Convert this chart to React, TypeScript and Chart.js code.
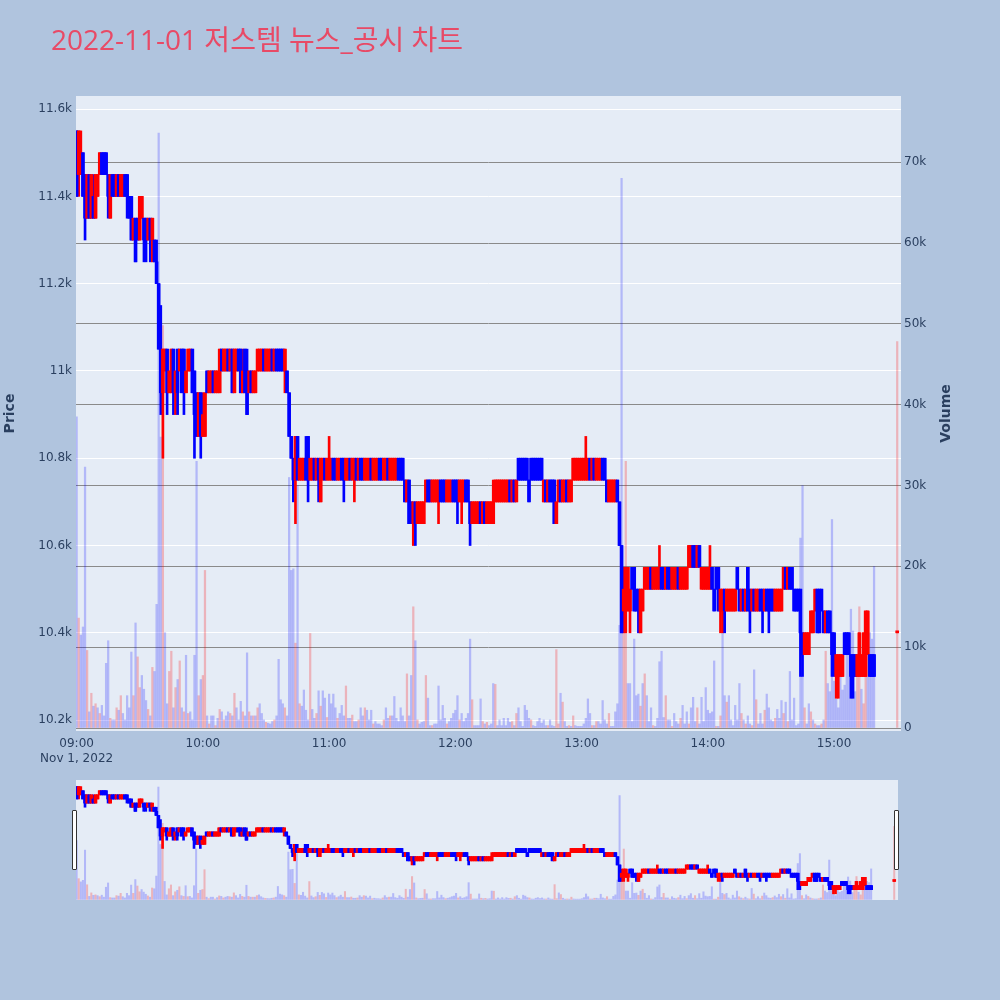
import { useEffect, useRef } from "react";
import { Chart, registerables } from "chart.js";

Chart.register(...registerables);

const TITLE = "2022-11-01 저스템 뉴스_공시 차트";
const DATE_LABEL = "Nov 1, 2022";
const TIME_TICK_MINUTES = [0, 60, 120, 180, 240, 300, 360];
const TIME_TICK_LABELS = ["09:00", "10:00", "11:00", "12:00", "13:00", "14:00", "15:00"];
const PRICE_TICKS = [10200, 10400, 10600, 10800, 11000, 11200, 11400, 11600];
const VOLUME_TICKS = [0, 10000, 20000, 30000, 40000, 50000, 60000, 70000];

// One bar per minute of continuous trading (09:00–15:19), then the 15:30 closing auction.
const CONTINUOUS_BARS = 380;
const CLOSING_AUCTION_MINUTE = 390;

const OPEN = [
  11550, 11450, 11450, 11500, 11450, 11350, 11450, 11350, 11400, 11350,
  11400, 11450, 11500, 11500, 11500, 11450, 11350, 11450, 11450, 11400,
  11450, 11400, 11400, 11450, 11450, 11400, 11400, 11300, 11350, 11350,
  11300, 11350, 11350, 11350, 11300, 11350, 11300, 11300, 11250, 11200,
  11050, 10950, 11000, 11050, 10950, 10950, 11050, 10950, 11050, 11000,
  11050, 11050, 10950, 11000, 11000, 11050, 11000, 10950, 10850, 10950,
  10850, 10850, 11000, 10950, 10950, 11000, 10950, 10950, 10950, 11050,
  11000, 11000, 11050, 11000, 11050, 10950, 11000, 11050, 11050, 10950,
  11050, 11000, 10950, 11000, 10950, 10950, 11000, 11000, 11000, 11050,
  11000, 11000, 11000, 11050, 11000, 11050, 11050, 11050, 11050, 11000,
  11000, 10950, 10850, 10800, 10750, 10850, 10750, 10750, 10750, 10800,
  10850, 10750, 10750, 10800, 10750, 10800, 10700, 10750, 10800, 10750,
  10750, 10750, 10800, 10800, 10750, 10750, 10800, 10800, 10750, 10750,
  10800, 10750, 10750, 10800, 10750, 10800, 10800, 10750, 10750, 10750,
  10800, 10750, 10750, 10750, 10800, 10800, 10750, 10750, 10800, 10750,
  10750, 10750, 10750, 10800, 10800, 10800, 10750, 10700, 10750, 10700,
  10650, 10700, 10650, 10650, 10650, 10650, 10700, 10750, 10750, 10700,
  10700, 10700, 10700, 10750, 10750, 10750, 10700, 10700, 10700, 10750,
  10750, 10750, 10700, 10700, 10700, 10750, 10750, 10700, 10650, 10650,
  10650, 10650, 10700, 10650, 10700, 10650, 10650, 10650, 10650, 10700,
  10700, 10700, 10700, 10700, 10700, 10700, 10750, 10700, 10750, 10700,
  10800, 10800, 10800, 10800, 10800, 10750, 10800, 10800, 10800, 10800,
  10800, 10800, 10700, 10750, 10700, 10750, 10750, 10750, 10650, 10700,
  10750, 10700, 10700, 10750, 10700, 10700, 10750, 10750, 10750, 10750,
  10750, 10750, 10750, 10750, 10800, 10750, 10800, 10750, 10750, 10750,
  10800, 10800, 10750, 10700, 10700, 10700, 10700, 10750, 10700, 10600,
  10450, 10450, 10450, 10450, 10550, 10550, 10500, 10500, 10400, 10450,
  10500, 10500, 10500, 10550, 10500, 10500, 10500, 10500, 10550, 10550,
  10500, 10550, 10550, 10500, 10500, 10500, 10550, 10500, 10500, 10500,
  10500, 10550, 10550, 10600, 10600, 10550, 10600, 10500, 10500, 10500,
  10500, 10500, 10550, 10500, 10550, 10550, 10450, 10450, 10500, 10450,
  10450, 10450, 10450, 10450, 10550, 10500, 10450, 10500, 10450, 10550,
  10500, 10450, 10500, 10450, 10450, 10500, 10500, 10450, 10500, 10500,
  10500, 10500, 10450, 10450, 10450, 10450, 10500, 10550, 10500, 10550,
  10550, 10500, 10500, 10500, 10500, 10400, 10350, 10350, 10350, 10400,
  10400, 10450, 10500, 10500, 10500, 10450, 10400, 10450, 10450, 10400,
  10400, 10300, 10300, 10300, 10300, 10400, 10400, 10400, 10350, 10350,
  10350, 10300, 10300, 10300, 10300, 10300, 10350, 10350, 10350, 10350,
  10400,
];

const HIGH = [
  11550, 11550, 11550, 11500, 11450, 11450, 11450, 11450, 11450, 11450,
  11450, 11500, 11500, 11500, 11500, 11450, 11450, 11450, 11450, 11450,
  11450, 11450, 11450, 11450, 11450, 11400, 11400, 11350, 11350, 11350,
  11400, 11400, 11350, 11350, 11350, 11350, 11350, 11300, 11300, 11200,
  11150, 11050, 11050, 11050, 11000, 11050, 11050, 11000, 11050, 11050,
  11050, 11050, 11000, 11050, 11050, 11050, 11000, 10950, 10950, 10950,
  10950, 10950, 11000, 11000, 11000, 11000, 11000, 11000, 11050, 11050,
  11050, 11050, 11050, 11050, 11050, 11050, 11050, 11050, 11050, 11050,
  11050, 11050, 11000, 11000, 11000, 11000, 11050, 11050, 11050, 11050,
  11050, 11050, 11050, 11050, 11050, 11050, 11050, 11050, 11050, 11050,
  11000, 10950, 10850, 10800, 10850, 10850, 10800, 10800, 10800, 10850,
  10850, 10800, 10800, 10800, 10800, 10800, 10800, 10800, 10800, 10800,
  10850, 10800, 10800, 10800, 10800, 10800, 10800, 10800, 10800, 10800,
  10800, 10800, 10800, 10800, 10800, 10800, 10800, 10800, 10800, 10800,
  10800, 10800, 10800, 10800, 10800, 10800, 10800, 10800, 10800, 10800,
  10800, 10800, 10800, 10800, 10800, 10800, 10750, 10750, 10750, 10700,
  10700, 10700, 10700, 10700, 10700, 10700, 10750, 10750, 10750, 10750,
  10750, 10750, 10750, 10750, 10750, 10750, 10750, 10750, 10750, 10750,
  10750, 10750, 10750, 10750, 10750, 10750, 10750, 10700, 10700, 10700,
  10700, 10700, 10700, 10700, 10700, 10700, 10700, 10700, 10750, 10750,
  10750, 10750, 10750, 10750, 10750, 10750, 10750, 10750, 10750, 10750,
  10800, 10800, 10800, 10800, 10800, 10750, 10800, 10800, 10800, 10800,
  10800, 10800, 10750, 10750, 10750, 10750, 10750, 10750, 10700, 10750,
  10750, 10750, 10750, 10750, 10750, 10750, 10800, 10800, 10800, 10800,
  10800, 10800, 10850, 10800, 10800, 10800, 10800, 10800, 10800, 10800,
  10800, 10800, 10750, 10750, 10750, 10750, 10750, 10750, 10700, 10600,
  10550, 10550, 10550, 10500, 10550, 10550, 10500, 10500, 10500, 10500,
  10550, 10550, 10550, 10550, 10550, 10550, 10550, 10600, 10550, 10550,
  10550, 10550, 10550, 10550, 10550, 10550, 10550, 10550, 10550, 10550,
  10550, 10600, 10600, 10600, 10600, 10600, 10600, 10550, 10550, 10550,
  10550, 10600, 10550, 10500, 10550, 10550, 10500, 10500, 10500, 10500,
  10500, 10500, 10500, 10500, 10550, 10500, 10500, 10500, 10500, 10550,
  10500, 10500, 10500, 10500, 10500, 10500, 10500, 10500, 10500, 10500,
  10500, 10500, 10500, 10500, 10500, 10500, 10550, 10550, 10550, 10550,
  10550, 10500, 10500, 10500, 10500, 10400, 10400, 10400, 10400, 10450,
  10450, 10500, 10500, 10500, 10500, 10450, 10450, 10450, 10450, 10400,
  10400, 10350, 10350, 10350, 10350, 10400, 10400, 10400, 10350, 10350,
  10350, 10350, 10400, 10350, 10400, 10450, 10450, 10350, 10350, 10350,
  10400,
];

const LOW = [
  11400, 11400, 11450, 11400, 11300, 11350, 11350, 11350, 11350, 11350,
  11400, 11450, 11450, 11450, 11450, 11350, 11350, 11400, 11400, 11400,
  11400, 11400, 11400, 11400, 11350, 11350, 11300, 11300, 11250, 11300,
  11300, 11350, 11250, 11250, 11300, 11250, 11250, 11250, 11200, 11050,
  10900, 10800, 11000, 10900, 10950, 10950, 10900, 10900, 10900, 11000,
  10950, 10900, 10950, 11000, 11000, 10950, 10800, 10850, 10850, 10800,
  10850, 10850, 10950, 10950, 10950, 10950, 10950, 10950, 10950, 11000,
  11000, 11000, 11000, 11000, 10950, 10950, 11000, 11000, 10950, 10950,
  10950, 10900, 10950, 10950, 10950, 10950, 11000, 11000, 11000, 11000,
  11000, 11000, 11000, 11000, 11000, 11000, 11000, 11000, 11000, 10950,
  10950, 10850, 10800, 10700, 10650, 10750, 10750, 10750, 10750, 10750,
  10700, 10750, 10750, 10750, 10750, 10700, 10700, 10750, 10750, 10750,
  10750, 10750, 10750, 10750, 10750, 10750, 10750, 10700, 10750, 10750,
  10750, 10750, 10700, 10750, 10750, 10750, 10750, 10750, 10750, 10750,
  10750, 10750, 10750, 10750, 10750, 10750, 10750, 10750, 10750, 10750,
  10750, 10750, 10750, 10750, 10750, 10750, 10700, 10700, 10650, 10650,
  10600, 10600, 10650, 10650, 10650, 10650, 10700, 10700, 10700, 10700,
  10700, 10700, 10650, 10700, 10700, 10700, 10700, 10700, 10700, 10700,
  10700, 10650, 10700, 10650, 10700, 10700, 10700, 10600, 10650, 10650,
  10650, 10650, 10650, 10650, 10650, 10650, 10650, 10650, 10650, 10700,
  10700, 10700, 10700, 10700, 10700, 10700, 10700, 10700, 10700, 10700,
  10750, 10750, 10750, 10750, 10750, 10700, 10750, 10750, 10750, 10750,
  10750, 10750, 10700, 10700, 10700, 10700, 10700, 10650, 10650, 10700,
  10700, 10700, 10700, 10700, 10700, 10700, 10750, 10750, 10750, 10750,
  10750, 10750, 10750, 10750, 10750, 10750, 10750, 10750, 10750, 10750,
  10750, 10750, 10700, 10700, 10700, 10700, 10700, 10700, 10600, 10400,
  10400, 10400, 10450, 10400, 10500, 10450, 10450, 10400, 10400, 10450,
  10500, 10500, 10500, 10500, 10500, 10500, 10500, 10500, 10500, 10500,
  10500, 10500, 10500, 10500, 10500, 10500, 10500, 10500, 10500, 10500,
  10500, 10550, 10550, 10550, 10550, 10550, 10550, 10500, 10500, 10500,
  10500, 10500, 10500, 10450, 10500, 10450, 10400, 10400, 10400, 10450,
  10450, 10450, 10450, 10450, 10500, 10450, 10450, 10450, 10450, 10450,
  10400, 10450, 10450, 10450, 10450, 10450, 10400, 10450, 10450, 10400,
  10450, 10450, 10450, 10450, 10450, 10450, 10500, 10500, 10500, 10500,
  10500, 10450, 10450, 10450, 10300, 10300, 10350, 10350, 10350, 10400,
  10400, 10450, 10400, 10400, 10450, 10400, 10400, 10400, 10400, 10300,
  10300, 10250, 10250, 10300, 10300, 10350, 10350, 10350, 10250, 10250,
  10300, 10300, 10300, 10300, 10300, 10300, 10350, 10300, 10300, 10300,
  10400,
];

const CLOSE = [
  11400, 11550, 11500, 11400, 11350, 11450, 11350, 11450, 11350, 11450,
  11450, 11500, 11450, 11450, 11450, 11400, 11450, 11400, 11400, 11450,
  11400, 11450, 11450, 11400, 11400, 11350, 11300, 11350, 11250, 11300,
  11400, 11400, 11300, 11300, 11350, 11300, 11350, 11250, 11200, 11050,
  10950, 11050, 11050, 10950, 11000, 11050, 10950, 11000, 10950, 11050,
  10950, 11000, 11000, 11050, 11050, 10950, 10900, 10850, 10950, 10850,
  10900, 10950, 10950, 11000, 11000, 10950, 11000, 11000, 11050, 11000,
  11050, 11050, 11000, 11050, 10950, 11050, 11050, 11000, 10950, 11000,
  10950, 10900, 11000, 10950, 11000, 11000, 11050, 11050, 11050, 11000,
  11050, 11050, 11050, 11000, 11050, 11000, 11000, 11000, 11000, 11050,
  10950, 10850, 10800, 10750, 10850, 10750, 10800, 10800, 10800, 10750,
  10750, 10800, 10800, 10750, 10800, 10750, 10800, 10800, 10750, 10800,
  10800, 10800, 10750, 10750, 10800, 10800, 10750, 10750, 10800, 10800,
  10750, 10800, 10800, 10750, 10800, 10750, 10750, 10800, 10800, 10800,
  10750, 10800, 10800, 10800, 10750, 10750, 10800, 10800, 10750, 10800,
  10800, 10800, 10800, 10750, 10750, 10750, 10700, 10750, 10650, 10650,
  10700, 10650, 10700, 10700, 10700, 10700, 10750, 10700, 10700, 10750,
  10750, 10750, 10750, 10700, 10700, 10700, 10750, 10750, 10750, 10700,
  10700, 10700, 10750, 10750, 10750, 10700, 10700, 10650, 10700, 10700,
  10700, 10700, 10650, 10700, 10650, 10700, 10700, 10700, 10700, 10750,
  10750, 10750, 10750, 10750, 10750, 10750, 10700, 10750, 10700, 10750,
  10750, 10750, 10750, 10750, 10750, 10700, 10750, 10750, 10750, 10750,
  10750, 10750, 10750, 10700, 10750, 10700, 10700, 10650, 10700, 10750,
  10700, 10750, 10750, 10700, 10750, 10750, 10800, 10800, 10800, 10800,
  10800, 10800, 10800, 10800, 10750, 10800, 10750, 10800, 10800, 10800,
  10750, 10750, 10700, 10750, 10750, 10750, 10750, 10700, 10600, 10400,
  10500, 10550, 10550, 10500, 10500, 10450, 10450, 10450, 10500, 10500,
  10550, 10550, 10550, 10500, 10550, 10550, 10550, 10550, 10500, 10500,
  10550, 10500, 10500, 10550, 10550, 10550, 10500, 10550, 10550, 10550,
  10550, 10600, 10600, 10550, 10550, 10600, 10550, 10550, 10550, 10550,
  10550, 10550, 10500, 10450, 10500, 10450, 10500, 10500, 10450, 10500,
  10500, 10500, 10500, 10500, 10500, 10450, 10500, 10450, 10500, 10450,
  10450, 10500, 10450, 10500, 10500, 10450, 10450, 10500, 10450, 10450,
  10450, 10450, 10500, 10500, 10500, 10500, 10550, 10500, 10550, 10500,
  10500, 10450, 10450, 10450, 10400, 10350, 10400, 10400, 10400, 10450,
  10450, 10500, 10400, 10400, 10450, 10400, 10450, 10400, 10400, 10350,
  10350, 10350, 10350, 10350, 10350, 10350, 10350, 10350, 10300, 10300,
  10300, 10350, 10400, 10350, 10400, 10450, 10450, 10300, 10300, 10300,
  10400,
];

const VOLUME = [
  38500, 13600, 11500, 12500, 32300, 9600, 2000, 4300, 2700, 3000,
  2500, 1800, 2800, 1500, 8000, 10800, 1200, 1000, 1000, 2500,
  2200, 4000, 1800, 1000, 4000, 2500, 9400, 4000, 13000, 8800,
  5000, 6500, 4800, 3400, 2300, 1500, 7500, 7000, 15300, 73600,
  36000, 49800, 11800, 3000, 7000, 9500, 2500, 5000, 6000, 8300,
  2500, 2000, 9000, 1800, 2000, 1000, 9000, 33000, 4000, 6000,
  6500, 19500, 1500, 500, 1500, 1500, 300, 1200, 2300, 2000,
  1000, 1500, 2000, 1800, 1500, 4300, 2500, 1000, 3300, 2000,
  1500, 9300, 2000, 1500, 1500, 1500, 2500, 3000, 1800, 1000,
  700, 600, 500, 800, 1000, 1500, 8500, 3500, 3000, 2500,
  1500, 31000, 19500, 19700, 10500, 30000, 3000, 2700, 4700, 2200,
  1000, 11700, 2300, 1200, 1800, 4600, 2700, 4600, 3700, 1300,
  4200, 3000, 4200, 2500, 1200, 1800, 2800, 1500, 5200, 1200,
  1200, 1600, 800, 800, 1000, 2500, 1500, 2500, 2200, 1000,
  2200, 500, 800, 500, 500, 300, 1000, 2500, 1200, 1500,
  1500, 3900, 1200, 800, 2500, 1500, 800, 6700, 1500, 6500,
  15000, 10800, 1000, 500, 700, 800, 6500, 3700, 300, 300,
  500, 500, 5200, 1000, 2800, 1200, 500, 800, 1200, 1800,
  2200, 4000, 1000, 1800, 800, 1200, 1800, 11000, 3500, 300,
  300, 300, 3600, 800, 500, 700, 300, 500, 5500, 5400,
  300, 1000, 300, 1200, 300, 1200, 700, 800, 300, 1800,
  2500, 800, 200, 2800, 2200, 1200, 1000, 300, 200, 800,
  1200, 600, 1000, 300, 300, 1000, 300, 200, 9700, 500,
  4300, 3200, 800, 200, 300, 200, 1500, 300, 200, 200,
  200, 500, 1200, 3600, 1800, 300, 300, 800, 800, 500,
  3400, 1000, 500, 1800, 200, 200, 2000, 3000, 12700, 68000,
  14500, 33000, 5500, 5500, 800, 11000, 4000, 4200, 2700, 5500,
  6700, 4000, 800, 2500, 300, 200, 1200, 8200, 9500, 1300,
  4000, 1000, 1000, 200, 1800, 800, 500, 1200, 2800, 500,
  2000, 500, 2500, 3800, 800, 2500, 500, 3800, 800, 5000,
  2200, 1800, 2000, 8300, 200, 200, 1500, 12300, 4000, 3200,
  4000, 1000, 300, 2800, 1000, 5500, 1800, 1000, 500, 1500,
  500, 300, 7200, 3500, 500, 1800, 500, 2200, 4200, 2500,
  1000, 800, 1200, 2300, 1200, 3400, 1800, 3200, 800, 7000,
  1000, 3700, 300, 500, 23500, 30000, 2500, 500, 3000, 2000,
  1000, 500, 300, 300, 500, 1000, 9500, 5500, 4500, 25800,
  5800, 3600, 2500, 6300, 4700, 5300, 10500, 9500, 14700, 12000,
  4500, 8000, 15000, 4800, 3000, 8700, 13200, 11800, 11000, 20000,
  47800,
];

const TITLE_FONT = "'Open Sans', 'Noto Sans CJK KR', sans-serif";
const AXIS_FONT = "'DejaVu Sans', Verdana, sans-serif";
const INK = "#2a3f5f";
const PAGE_BG = "#b0c4de";
const PLOT_BG = "#e5ecf6";
const UP = "#ff0000";
const DOWN = "#0000ff";
const UP_VOL = "rgba(255, 0, 0, 0.24)";
const DOWN_VOL = "rgba(0, 0, 255, 0.22)";

const X_MIN = -0.3;
const X_MAX = 391.8;
const PRICE_MIN = 10175;
const PRICE_MAX = 11630;
const VOL_MIN = -370;
const VOL_MAX = 78200;

function barMinute(i: number) {
  return i < CONTINUOUS_BARS ? i : CLOSING_AUCTION_MINUTE;
}

// Candle colour: close against open (ties fall back to the previous close).
function candleRises(i: number) {
  if (CLOSE[i] > OPEN[i]) return true;
  if (CLOSE[i] < OPEN[i]) return false;
  return i > 0 && CLOSE[i] >= CLOSE[i - 1];
}

// Volume colour: close against the previous bar's close.
function volumeRises(i: number) {
  const ref = i > 0 ? CLOSE[i - 1] : OPEN[i];
  return CLOSE[i] > ref;
}

function buildDatasets(volWidth: number, bodyWidth: number, wickWidth: number) {
  const candleColors = OPEN.map((_, i) => (candleRises(i) ? UP : DOWN));
  const volumeColors = VOLUME.map((_, i) => (volumeRises(i) ? UP_VOL : DOWN_VOL));
  return [
    {
      type: "bar" as const,
      label: "Volume",
      yAxisID: "yVol",
      data: VOLUME.map((v, i) => ({ x: barMinute(i), y: v })),
      backgroundColor: volumeColors,
      barThickness: volWidth,
      grouped: false,
      order: 3,
    },
    {
      type: "bar" as const,
      label: "High-Low",
      yAxisID: "yPrice",
      data: HIGH.map((h, i) => ({ x: barMinute(i), y: [LOW[i], h] })),
      backgroundColor: candleColors,
      barThickness: wickWidth,
      minBarLength: 1,
      grouped: false,
      order: 2,
    },
    {
      type: "bar" as const,
      label: "Open-Close",
      yAxisID: "yPrice",
      data: OPEN.map((o, i) => ({ x: barMinute(i), y: [o, CLOSE[i]] })),
      backgroundColor: candleColors,
      barThickness: bodyWidth,
      minBarLength: 2,
      grouped: false,
      order: 1,
    },
  ];
}

const plotBackground = {
  id: "plotBackground",
  beforeDraw(chart: any) {
    const { ctx, chartArea } = chart;
    ctx.save();
    ctx.fillStyle = PLOT_BG;
    ctx.fillRect(chartArea.left, chartArea.top, chartArea.right - chartArea.left, chartArea.bottom - chartArea.top);
    ctx.restore();
  },
};

const titles = {
  id: "titles",
  afterDraw(chart: any) {
    const { ctx, chartArea } = chart;
    ctx.save();
    ctx.fillStyle = "#e84a66";
    ctx.font = `28px ${TITLE_FONT}`;
    ctx.textAlign = "left";
    ctx.textBaseline = "alphabetic";
    ctx.fillText(TITLE, 51, 50);

    const midY = (chartArea.top + chartArea.bottom) / 2;
    ctx.fillStyle = INK;
    ctx.font = `bold 14px ${AXIS_FONT}`;
    ctx.textAlign = "center";
    ctx.textBaseline = "middle";
    const axisTitles: [number, string][] = [
      [10, "Price"],
      [946, "Volume"],
    ];
    for (const [x, text] of axisTitles) {
      ctx.save();
      ctx.translate(x, midY);
      ctx.rotate(-Math.PI / 2);
      ctx.fillText(text, 0, 0);
      ctx.restore();
    }
    ctx.restore();
  },
};

function formatK(v: number) {
  return v === 0 ? "0" : `${v / 1000}k`;
}

export default function App() {
  const mainRef = useRef<HTMLCanvasElement>(null);
  const sliderRef = useRef<HTMLCanvasElement>(null);

  useEffect(() => {
    if (!mainRef.current || !sliderRef.current) return;
    const tickFont = { family: AXIS_FONT, size: 12 };

    const main = new Chart(mainRef.current, {
      type: "bar",
      data: { datasets: buildDatasets(1.6, 3, 2) as any },
      plugins: [plotBackground, titles],
      options: {
        animation: false,
        responsive: false,
        devicePixelRatio: 1,
        events: [],
        layout: { padding: { top: 96, left: 0, right: 0, bottom: 0 } },
        plugins: { legend: { display: false }, tooltip: { enabled: false } },
        scales: {
          x: {
            type: "linear",
            offset: false,
            min: X_MIN,
            max: X_MAX,
            grid: { display: false, drawTicks: false },
            border: { display: false },
            afterBuildTicks: (s: any) => {
              s.ticks = TIME_TICK_MINUTES.map((value) => ({ value }));
            },
            afterFit: (s: any) => {
              s.height = 269;
            },
            ticks: {
              autoSkip: false,
              maxRotation: 0,
              padding: 5,
              color: INK,
              font: { ...tickFont, lineHeight: 1.25 },
              callback: (_v: any, i: number) =>
                i === 0 ? [TIME_TICK_LABELS[0], DATE_LABEL] : TIME_TICK_LABELS[i],
            },
          },
          yPrice: {
            type: "linear",
            position: "left",
            min: PRICE_MIN,
            max: PRICE_MAX,
            grid: { color: "#ffffff", lineWidth: 1, drawTicks: false },
            border: { display: false },
            afterBuildTicks: (s: any) => {
              s.ticks = PRICE_TICKS.map((value) => ({ value }));
            },
            afterFit: (s: any) => {
              s.width = 76;
            },
            ticks: {
              padding: 4,
              color: INK,
              font: tickFont,
              callback: (v: any) => formatK(Number(v)),
            },
          },
          yVol: {
            type: "linear",
            position: "right",
            min: VOL_MIN,
            max: VOL_MAX,
            grid: { color: "#8a8a8a", lineWidth: 1, drawTicks: false },
            border: { display: false },
            afterBuildTicks: (s: any) => {
              s.ticks = VOLUME_TICKS.map((value) => ({ value }));
            },
            afterFit: (s: any) => {
              s.width = 99;
            },
            ticks: {
              padding: 3,
              color: INK,
              font: tickFont,
              callback: (v: any) => formatK(Number(v)),
            },
          },
        },
      } as any,
    });

    // Range-slider overview of the whole session
    const slider = new Chart(sliderRef.current, {
      type: "bar",
      data: { datasets: buildDatasets(1.4, 3, 2) as any },
      options: {
        animation: false,
        responsive: false,
        devicePixelRatio: 1,
        events: [],
        layout: { padding: 0 },
        plugins: { legend: { display: false }, tooltip: { enabled: false } },
        scales: {
          x: { type: "linear", offset: false, min: X_MIN, max: X_MAX, display: false },
          yPrice: { type: "linear", position: "left", min: PRICE_MIN, max: PRICE_MAX, display: false },
          yVol: { type: "linear", position: "right", min: VOL_MIN, max: VOL_MAX, display: false },
        },
      } as any,
    });

    return () => {
      main.destroy();
      slider.destroy();
    };
  }, []);

  const grabber = (left: number) => (
    <div
      style={{
        position: "absolute",
        left,
        top: 810,
        width: 3,
        height: 58,
        background: "#ffffff",
        border: "1px solid #333333",
        borderRadius: 1,
      }}
    />
  );

  return (
    <div style={{ position: "absolute", left: 0, top: 0, width: 1000, height: 1000, background: PAGE_BG, overflow: "hidden" }}>
      <canvas ref={mainRef} width={1000} height={1000} style={{ position: "absolute", left: 0, top: 0, width: 1000, height: 1000 }} />
      <canvas
        ref={sliderRef}
        width={822}
        height={120}
        style={{ position: "absolute", left: 76, top: 780, width: 822, height: 120, background: PLOT_BG }}
      />
      {grabber(72)}
      {grabber(894)}
    </div>
  );
}
